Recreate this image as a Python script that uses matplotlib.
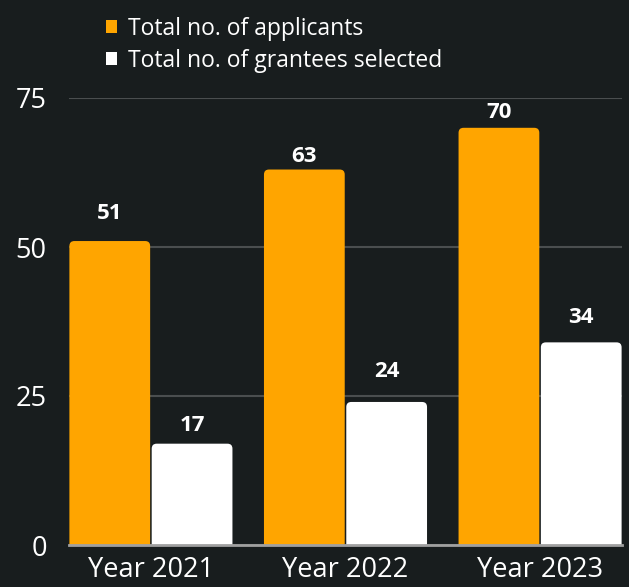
import matplotlib
matplotlib.use("Agg")
import matplotlib.pyplot as plt
from matplotlib.patches import FancyBboxPatch
import numpy as np

categories = ["Year 2021", "Year 2022", "Year 2023"]
applicants = [51, 63, 70]
grantees = [17, 24, 34]
series_names = ["Total no. of applicants", "Total no. of grantees selected"]
yticks = [0, 25, 50, 75]

# label gap above each bar (pixels), styling only
label_gap_px = [[22, 8, 10], [13, 25, 19]]

BG = "#181d1e"
ORANGE = "#ffa500"
WHITE = "#ffffff"

plt.rcParams['font.family'] = ['Open Sans', 'DejaVu Sans']

fig = plt.figure(figsize=(6.29, 5.87), dpi=100, facecolor=BG)
ax = fig.add_axes([69/629, 1-545/587, (622-69)/629, (545-98)/587])
ax.set_facecolor(BG)

x = np.arange(len(categories))
w = 0.415
gap = 0.008
half = w + gap/2
ax.set_xlim(-half - 0.002, len(categories) - 1 + half + 0.002)
ax.set_ylim(0, 75)

bars1 = ax.bar(x - (w + gap)/2, applicants, w, color=ORANGE, label=series_names[0], zorder=3)
bars2 = ax.bar(x + (w + gap)/2, grantees, w, color=WHITE, label=series_names[1], zorder=3)

# replace bars with rounded-top versions
fig.canvas.draw()
bbox = ax.get_window_extent()
xl = ax.get_xlim(); yl = ax.get_ylim()
xpp = (xl[1]-xl[0]) / bbox.width
ypp = (yl[1]-yl[0]) / bbox.height
rad_px = 5
for si, (bars, col) in enumerate(((bars1, ORANGE), (bars2, WHITE))):
    for bi, b in enumerate(bars):
        b.set_visible(False)
        bx, by = b.get_x(), b.get_y()
        bw, bh = b.get_width(), b.get_height()
        ext = rad_px * ypp * 1.5
        p = FancyBboxPatch((bx, by - ext), bw, bh + ext,
                           boxstyle=f"round,pad=0,rounding_size={rad_px*xpp}",
                           mutation_aspect=ypp/xpp, fc=col, ec='none', zorder=3,
                           clip_on=True)
        ax.add_patch(p)
        ax.annotate(f"{int(bh)}", (bx + bw/2, bh),
                    xytext=(0, label_gap_px[si][bi] * 72 / 100), textcoords="offset points",
                    ha='center', va='baseline', color=WHITE, fontsize=16, fontweight='bold',
                    annotation_clip=False)

ax.set_yticks(yticks)
ax.set_yticklabels([str(v) for v in yticks])
ax.set_xticks(x)
ax.set_xticklabels(categories)
ax.tick_params(axis='both', length=0, colors=WHITE, labelsize=19.5)
ax.tick_params(axis='y', pad=16)
ax.tick_params(axis='x', pad=8)
ax.grid(axis='y', color='#4a4e4f', linewidth=1.5, zorder=0)
ax.set_axisbelow(True)
for s in ['top', 'right', 'left']:
    ax.spines[s].set_visible(False)
ax.spines['bottom'].set_color('#a0a0a0')
ax.spines['bottom'].set_linewidth(2)
ax.spines['bottom'].set_zorder(4)

leg = fig.legend(handles=[bars1, bars2], labels=series_names, loc='upper left',
                 bbox_to_anchor=(106/629, 1 - 17/587), frameon=False, fontsize=16.5,
                 borderpad=0, borderaxespad=0,
                 handlelength=0.5, handleheight=0.5, handletextpad=0.45, labelspacing=0.35,
                 labelcolor=WHITE)
for h in leg.legend_handles:
    h.set_visible(True)

fig.savefig("out.png", dpi=100, facecolor=BG)
